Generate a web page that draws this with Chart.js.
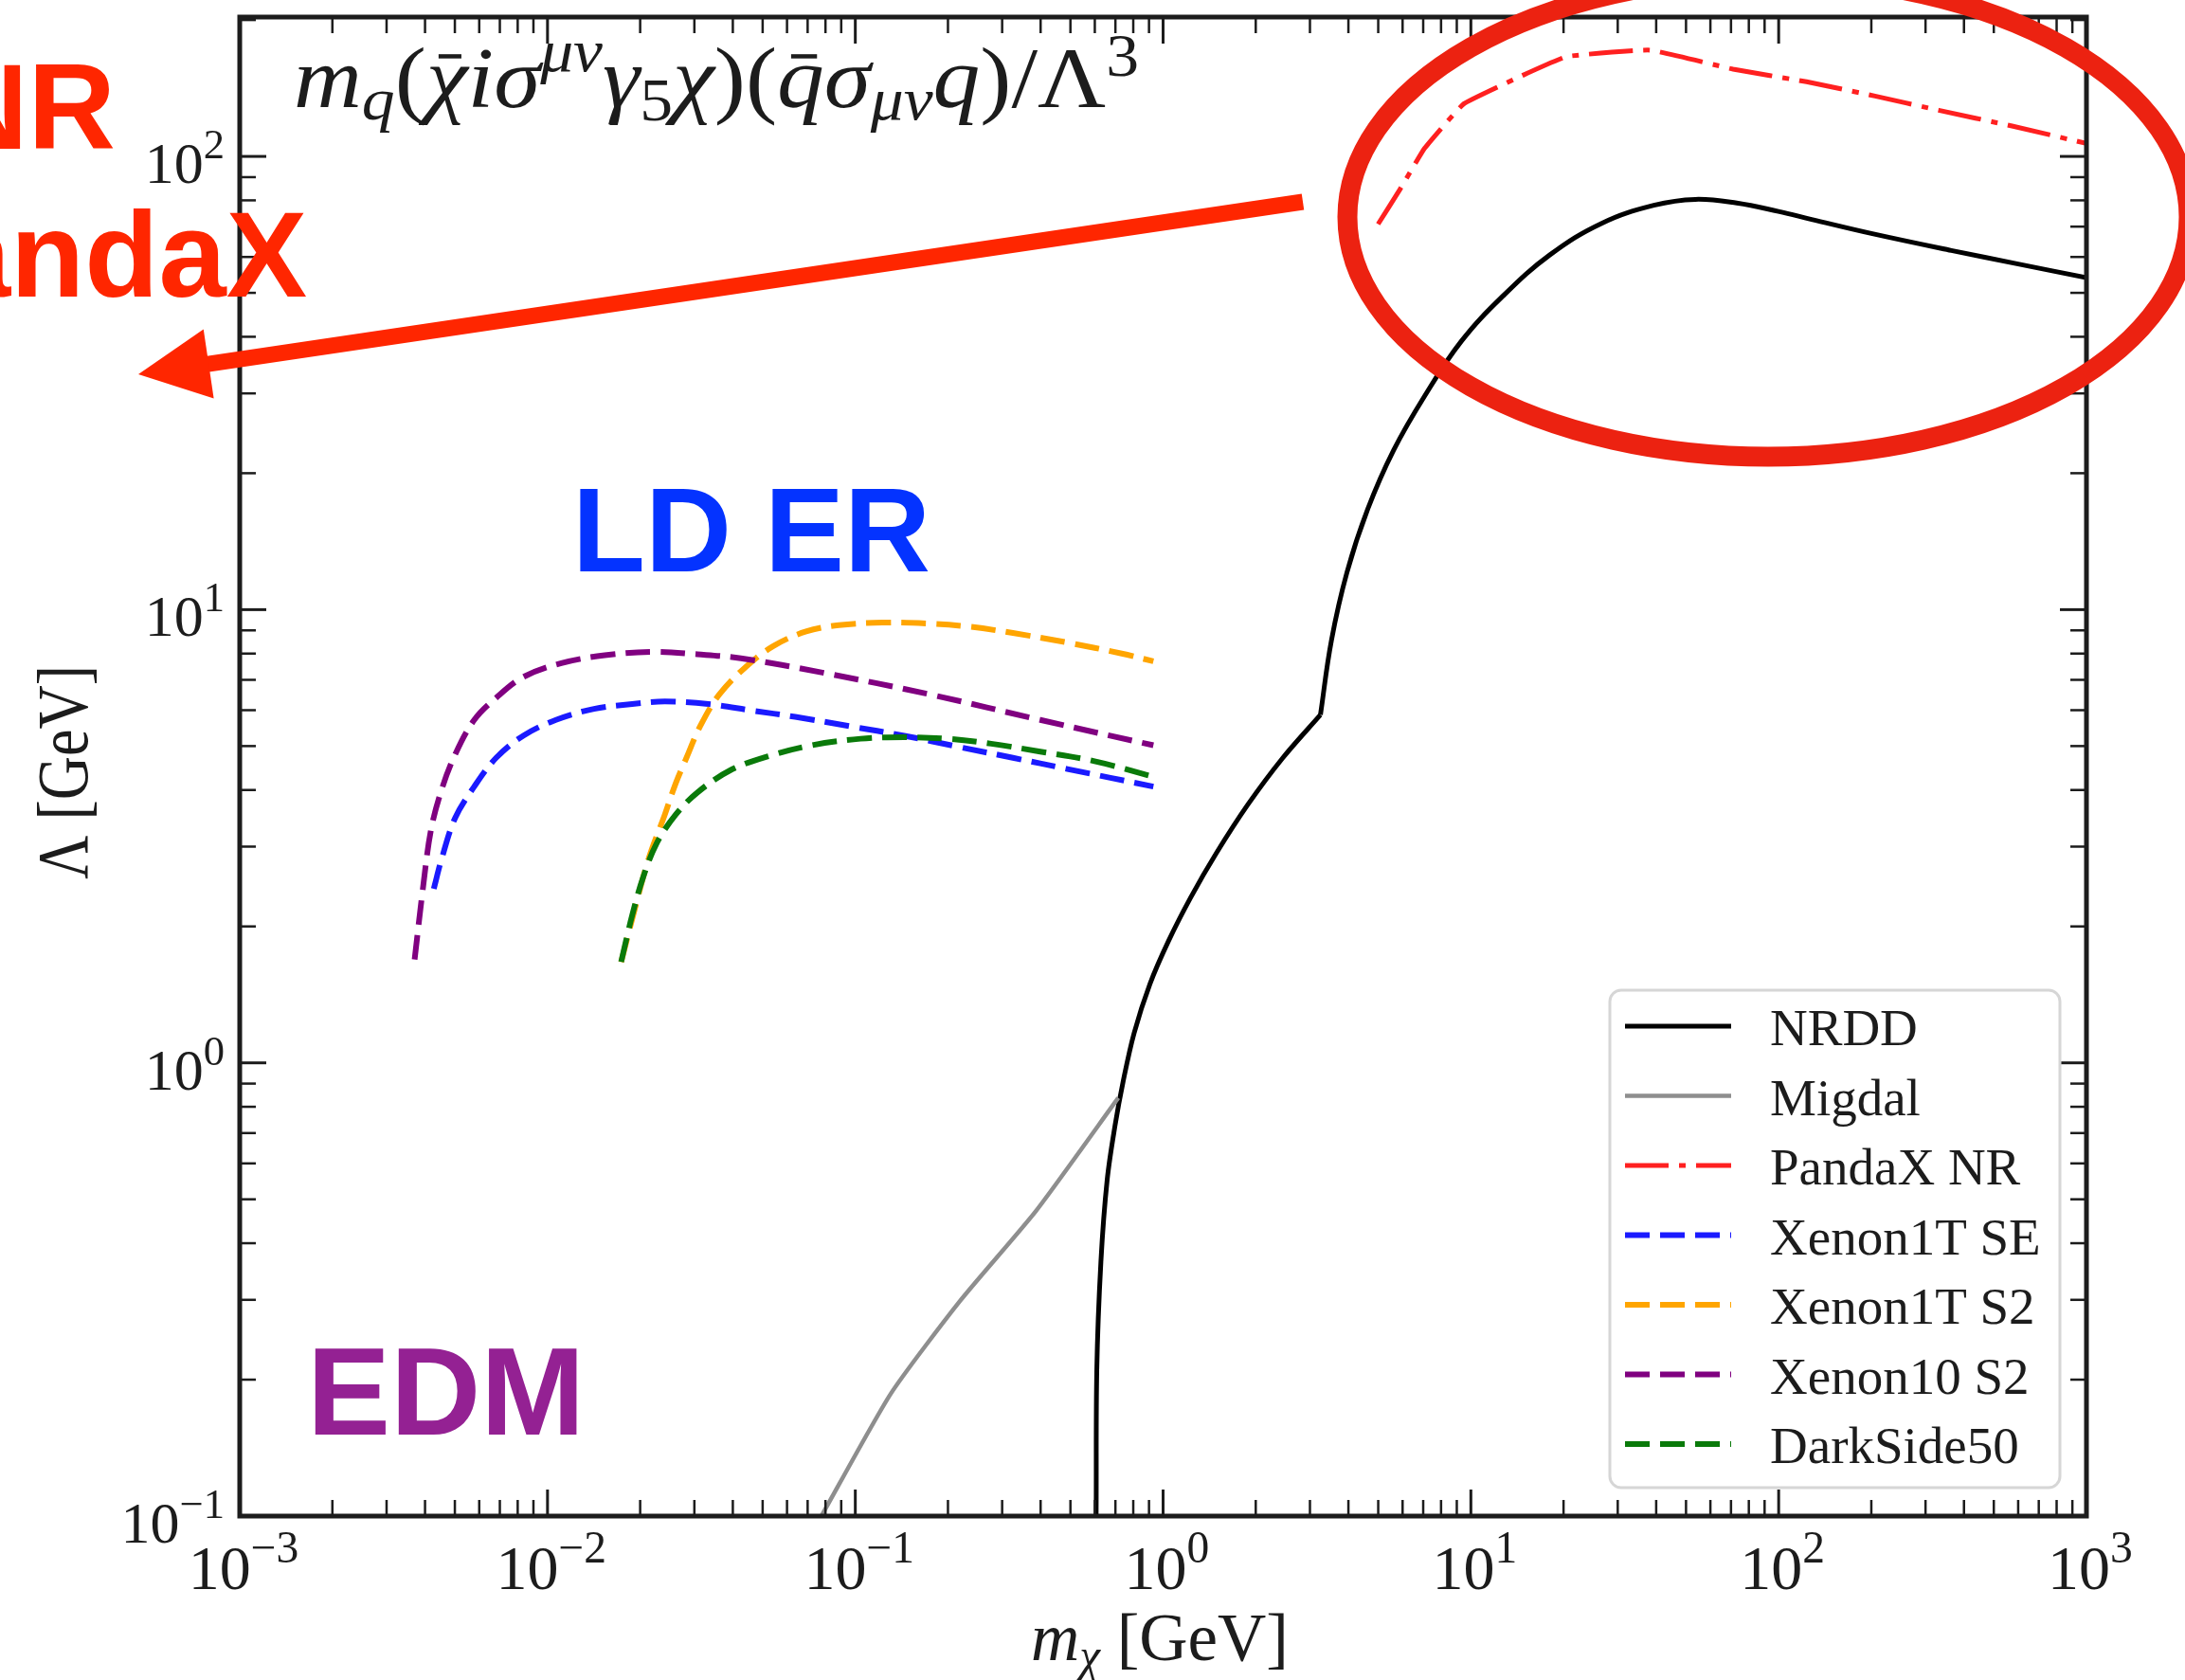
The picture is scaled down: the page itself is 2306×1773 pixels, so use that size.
<!DOCTYPE html>
<html>
<head>
<meta charset="utf-8">
<title>Λ vs m_χ</title>
<script src="https://cdn.jsdelivr.net/npm/chart.js@4.4.1/dist/chart.umd.min.js"></script>
<style>
    html, body { margin: 0; padding: 0; background: #ffffff; }
    canvas { display: block; }
</style>
</head>
<body>
<canvas id="grafica" width="2306" height="1773"></canvas>
<script>
// Curvas de exclusion: masa en GeV, Lambda en GeV
const nrddMasaBaja = [0.604, 0.606, 0.609, 0.628, 0.658, 0.698, 0.741, 0.805, 0.906, 1.043, 1.232, 1.487, 1.885, 2.443, 3.245];
const nrddLambdaBaja = [0.09, 0.1, 0.21, 0.364, 0.551, 0.727, 0.907, 1.163, 1.492, 1.861, 2.323, 2.897, 3.713, 4.70, 5.86];
const nrddMasaAlta = [3.245, 3.523, 3.957, 4.624, 5.615, 7.09, 9.31, 12.71, 18.03, 26.6, 39.3, 53.6, 73.1, 99.8, 128, 200, 364, 600, 1000];
const nrddLambdaAlta = [5.86, 8.55, 12.08, 16.67, 22.5, 29.67, 39.1, 49.2, 60.6, 71.2, 78.0, 80.4, 78.9, 75.6, 72.6, 67.6, 62.0, 57.9, 54.0];

const migdalMasa = [0.07, 0.0776, 0.1304, 0.2193, 0.3867, 0.715];
const migdalLambda = [0.0885, 0.1, 0.1862, 0.2987, 0.4715, 0.837];

const pandaxMasa = [4.995, 5.89, 7.08, 9.48, 14.72, 20.5, 38.1, 71.1, 123.2, 205.6, 331.1, 573.2, 1000];
const pandaxLambda = [70.9, 84.7, 104.3, 130.6, 150.9, 166.1, 171.6, 155.8, 146.1, 135.9, 126.4, 116.7, 106.8];

const xenonSEMasa = [0.00427, 0.00453, 0.00501, 0.00578, 0.00681, 0.00834, 0.01065, 0.01416, 0.01884, 0.02405, 0.0333, 0.0461, 0.0638, 0.0959, 0.1441, 0.2166, 0.3252, 0.4887, 0.93];
const xenonSELambda = [2.42, 2.82, 3.47, 4.07, 4.71, 5.27, 5.71, 6.04, 6.19, 6.27, 6.19, 5.99, 5.80, 5.53, 5.27, 4.98, 4.71, 4.45, 4.07];

const xenonS2Masa = [0.01735, 0.0192, 0.0213, 0.02405, 0.0261, 0.02828, 0.03133, 0.0361, 0.0443, 0.0543, 0.0692, 0.0884, 0.1224, 0.1696, 0.2348, 0.3252, 0.4887, 0.734, 0.93];
const xenonS2Lambda = [1.67, 2.18, 2.82, 3.53, 4.14, 4.71, 5.53, 6.49, 7.50, 8.32, 8.95, 9.24, 9.36, 9.32, 9.17, 8.88, 8.46, 8.00, 7.69];

const xenon10Masa = [0.0037, 0.00393, 0.00418, 0.00453, 0.00501, 0.00578, 0.00681, 0.00834, 0.01109, 0.01535, 0.0222, 0.0307, 0.0425, 0.0783, 0.1766, 0.399, 0.93];
const xenon10Lambda = [1.69, 2.40, 3.26, 4.01, 4.79, 5.71, 6.39, 7.10, 7.62, 7.93, 8.07, 7.97, 7.81, 7.26, 6.49, 5.71, 5.02];

const darksideMasa = [0.01735, 0.01882, 0.02042, 0.02262, 0.0261, 0.0307, 0.0392, 0.0521, 0.0721, 0.104, 0.1441, 0.1995, 0.2763, 0.399, 0.599, 0.93];
const darksideLambda = [1.67, 2.11, 2.56, 3.05, 3.53, 3.95, 4.42, 4.75, 5.02, 5.19, 5.23, 5.19, 5.06, 4.86, 4.63, 4.28];

// Ejes
const xDecadas = [1e-3, 1e-2, 1e-1, 1, 10, 100, 1000];
const xExponentes = ['−3', '−2', '−1', '0', '1', '2', '3'];
const yDecadas = [0.1, 1, 10, 100];
const yExponentes = ['−1', '0', '1', '2'];
const xMin = 1e-3, xMax = 1e3, yMin = 0.1, yMax = 203;

const FUENTE = 'Liberation Serif';
const TINTA = '#1c1c1c';

function pares(xs, ys) {
    return xs.map(function (x, i) { return { x: x, y: ys[i] }; });
}

function serie(label, xs, ys, color, ancho, guion, tension, enLeyenda) {
    return {
        label: label,
        data: pares(xs, ys),
        showLine: true,
        fill: false,
        borderColor: color,
        backgroundColor: color,
        borderWidth: ancho,
        borderDash: guion,
        borderCapStyle: 'butt',
        tension: tension,
        pointRadius: 0,
        clip: 0,
        enLeyenda: enLeyenda
    };
}

const guionado = [26, 11];
const rayaPunto = [46, 11, 7, 11];

const datasets = [
    serie('NRDD', nrddMasaBaja, nrddLambdaBaja, '#000000', 5, [], 0.35, true),
    serie('NRDD', nrddMasaAlta, nrddLambdaAlta, '#000000', 5, [], 0.4, false),
    serie('Migdal', migdalMasa, migdalLambda, '#8e8e8e', 4.5, [], 0.2, true),
    serie('PandaX NR', pandaxMasa, pandaxLambda, '#ff2020', 5, rayaPunto, 0.1, true),
    serie('Xenon1T SE', xenonSEMasa, xenonSELambda, '#1a1aff', 6, guionado, 0.35, true),
    serie('Xenon1T S2', xenonS2Masa, xenonS2Lambda, '#ffa500', 6, guionado, 0.35, true),
    serie('Xenon10 S2', xenon10Masa, xenon10Lambda, '#800080', 6, guionado, 0.35, true),
    serie('DarkSide50', darksideMasa, darksideLambda, '#0a7a0a', 6, guionado, 0.35, true)
];
// como en matplotlib: la ultima serie queda encima
datasets.forEach(function (d, i) { d.order = datasets.length - i; });

// Texto por partes (subindices, superindices, barras), con ajuste de ancho opcional
function dibujarTexto(ctx, partes, x, y, op) {
    op = op || {};
    const fam = op.familia || FUENTE;
    const fuente = function (p) {
        return (p.negrita ? 'bold ' : '') + (p.cursiva ? 'italic ' : '') + p.tam + 'px "' + fam + '"';
    };
    const anchos = partes.map(function (p) {
        ctx.font = fuente(p);
        return ctx.measureText(p.t).width;
    });
    const total = anchos.reduce(function (a, b) { return a + b; }, 0);
    const esc = op.ancho ? op.ancho / total : 1;
    let off = 0;
    if (op.alinear === 'center') off = -total / 2;
    else if (op.alinear === 'right') off = -total;

    ctx.save();
    ctx.translate(x, y);
    if (op.rotar) ctx.rotate(op.rotar);
    ctx.scale(esc, 1);
    ctx.fillStyle = op.color || TINTA;
    ctx.textAlign = 'left';
    ctx.textBaseline = 'alphabetic';
    partes.forEach(function (p, i) {
        ctx.font = fuente(p);
        const dy = p.dy || 0;
        ctx.fillText(p.t, off, dy);
        if (p.barra) {
            ctx.fillRect(off + anchos[i] * 0.3, dy - p.tam * 0.62, anchos[i] * 0.55, p.tam * 0.05);
        }
        off += anchos[i];
    });
    ctx.restore();
}

function potencia(ctx, exp, x, y, tam, alinear) {
    dibujarTexto(ctx, [
        { t: '10', tam: tam },
        { t: exp, tam: tam * 0.72, dy: -tam * 0.42 }
    ], x, y, { alinear: alinear });
}

function menores(min, max) {
    const vals = [];
    for (let e = Math.floor(Math.log10(min)); e <= Math.ceil(Math.log10(max)); e++) {
        for (let k = 2; k <= 9; k++) {
            const v = k * Math.pow(10, e);
            if (v > min && v < max) vals.push(v);
        }
    }
    return vals;
}

function linea(ctx, x1, y1, x2, y2, w) {
    ctx.lineWidth = w;
    ctx.beginPath();
    ctx.moveTo(x1, y1);
    ctx.lineTo(x2, y2);
    ctx.stroke();
}

const marcoEjes = {
    id: 'marcoEjes',
    afterDatasetsDraw: function (chart) {
        const ctx = chart.ctx;
        const a = chart.chartArea;
        const sx = chart.scales.x;
        const sy = chart.scales.y;
        ctx.save();
        ctx.strokeStyle = TINTA;
        ctx.lineCap = 'butt';

        // marcas hacia dentro en los cuatro lados
        xDecadas.forEach(function (v) {
            const px = sx.getPixelForValue(v);
            linea(ctx, px, a.bottom, px, a.bottom - 28, 3);
            linea(ctx, px, a.top, px, a.top + 28, 3);
        });
        menores(xMin, xMax).forEach(function (v) {
            const px = sx.getPixelForValue(v);
            linea(ctx, px, a.bottom, px, a.bottom - 17, 2.5);
            linea(ctx, px, a.top, px, a.top + 17, 2.5);
        });
        yDecadas.forEach(function (v) {
            const py = sy.getPixelForValue(v);
            linea(ctx, a.left, py, a.left + 28, py, 3);
            linea(ctx, a.right, py, a.right - 28, py, 3);
        });
        menores(yMin, yMax).forEach(function (v) {
            const py = sy.getPixelForValue(v);
            linea(ctx, a.left, py, a.left + 17, py, 2.5);
            linea(ctx, a.right, py, a.right - 17, py, 2.5);
        });

        ctx.lineWidth = 5;
        ctx.strokeRect(a.left, a.top, a.right - a.left, a.bottom - a.top);

        // etiquetas de las marcas
        xDecadas.forEach(function (v, i) {
            potencia(ctx, xExponentes[i], sx.getPixelForValue(v) + 4, a.bottom + 77, 66, 'center');
        });
        yDecadas.forEach(function (v, i) {
            potencia(ctx, yExponentes[i], a.left - 16, sy.getPixelForValue(v) + 28, 62, 'right');
        });

        // titulos de los ejes
        dibujarTexto(ctx, [
            { t: 'm', tam: 72, cursiva: true },
            { t: 'χ', tam: 50, cursiva: true, dy: 12 },
            { t: ' [GeV]', tam: 72 }
        ], 1224, 1752, { alinear: 'center', ancho: 272 });
        dibujarTexto(ctx, [
            { t: 'Λ [GeV]', tam: 76 }
        ], 92, 815, { alinear: 'center', ancho: 226, rotar: -Math.PI / 2 });

        // operador
        const F = 90, s = F * 0.7;
        dibujarTexto(ctx, [
            { t: 'm', tam: F, cursiva: true },
            { t: 'q', tam: s, cursiva: true, dy: 13 },
            { t: '(', tam: F },
            { t: 'χ', tam: F, cursiva: true, barra: true },
            { t: 'i', tam: F, cursiva: true },
            { t: 'σ', tam: F, cursiva: true },
            { t: 'μν', tam: s, cursiva: true, dy: -38 },
            { t: 'γ', tam: F, cursiva: true },
            { t: '5', tam: s, dy: 14 },
            { t: 'χ', tam: F, cursiva: true },
            { t: ')(', tam: F },
            { t: 'q', tam: F, cursiva: true, barra: true },
            { t: 'σ', tam: F, cursiva: true },
            { t: 'μν', tam: s, cursiva: true, dy: 13 },
            { t: 'q', tam: F, cursiva: true },
            { t: ')/Λ', tam: F },
            { t: '3', tam: s, dy: -33 }
        ], 310, 113, { ancho: 892 });

        // leyenda
        const L = { x0: 1699, y0: 1045, x1: 2174, y1: 1570 };
        ctx.beginPath();
        ctx.roundRect(L.x0, L.y0, L.x1 - L.x0, L.y1 - L.y0, 12);
        ctx.fillStyle = 'rgba(255,255,255,0.9)';
        ctx.fill();
        ctx.strokeStyle = '#d6d6d6';
        ctx.lineWidth = 3;
        ctx.stroke();

        const entradas = chart.data.datasets.filter(function (d) { return d.enLeyenda; });
        entradas.forEach(function (d, i) {
            const yy = 1083 + i * 73.5;
            ctx.save();
            ctx.strokeStyle = d.borderColor;
            ctx.setLineDash(d.borderDash || []);
            linea(ctx, 1715, yy, 1827, yy, d.borderWidth);
            ctx.restore();
            dibujarTexto(ctx, [{ t: d.label, tam: 55 }], 1868, yy + 20, {});
        });
        ctx.restore();
    }
};

// marcas de la diapositiva: elipse, flecha y rotulos
const rotulos = {
    id: 'rotulos',
    afterDraw: function (chart) {
        const ctx = chart.ctx;
        ctx.save();

        ctx.strokeStyle = '#ec2211';
        ctx.lineWidth = 21;
        ctx.beginPath();
        ctx.ellipse(1866, 229, 444, 253, 0, 0, Math.PI * 2);
        ctx.stroke();

        const rojo = '#ff2600';
        const cola = { x: 1375, y: 213 };
        const punta = { x: 146, y: 395 };
        const dx = punta.x - cola.x, dy = punta.y - cola.y;
        const lon = Math.hypot(dx, dy);
        const ux = dx / lon, uy = dy / lon;
        const base = { x: punta.x - ux * 75, y: punta.y - uy * 75 };
        ctx.strokeStyle = rojo;
        ctx.lineWidth = 17;
        ctx.lineCap = 'butt';
        ctx.beginPath();
        ctx.moveTo(cola.x, cola.y);
        ctx.lineTo(base.x + ux * 4, base.y + uy * 4);
        ctx.stroke();
        ctx.fillStyle = rojo;
        ctx.beginPath();
        ctx.moveTo(punta.x, punta.y);
        ctx.lineTo(base.x - uy * 37, base.y + ux * 37);
        ctx.lineTo(base.x + uy * 37, base.y - ux * 37);
        ctx.closePath();
        ctx.fill();

        const sans = 'Liberation Sans';
        ctx.textAlign = 'right';
        ctx.textBaseline = 'alphabetic';
        ctx.font = 'bold 128px "' + sans + '"';
        ctx.fillText('NR', 122, 157);
        ctx.fillText('PandaX', 324, 313);

        ctx.textAlign = 'left';
        ctx.fillStyle = '#0433ff';
        ctx.font = 'bold 126px "' + sans + '"';
        ctx.fillText('LD ER', 604, 603);

        ctx.fillStyle = '#942193';
        ctx.font = 'bold 132px "' + sans + '"';
        ctx.fillText('EDM', 324, 1514);

        ctx.restore();
    }
};

new Chart(document.getElementById('grafica'), {
    type: 'scatter',
    data: { datasets: datasets },
    options: {
        responsive: false,
        animation: false,
        devicePixelRatio: 1,
        events: [],
        layout: { padding: { left: 253, right: 104, top: 18, bottom: 173 } },
        plugins: {
            legend: { display: false },
            tooltip: { enabled: false }
        },
        scales: {
            x: { type: 'logarithmic', min: xMin, max: xMax, display: false },
            y: { type: 'logarithmic', min: yMin, max: yMax, display: false }
        }
    },
    plugins: [marcoEjes, rotulos]
});
</script>
</body>
</html>
